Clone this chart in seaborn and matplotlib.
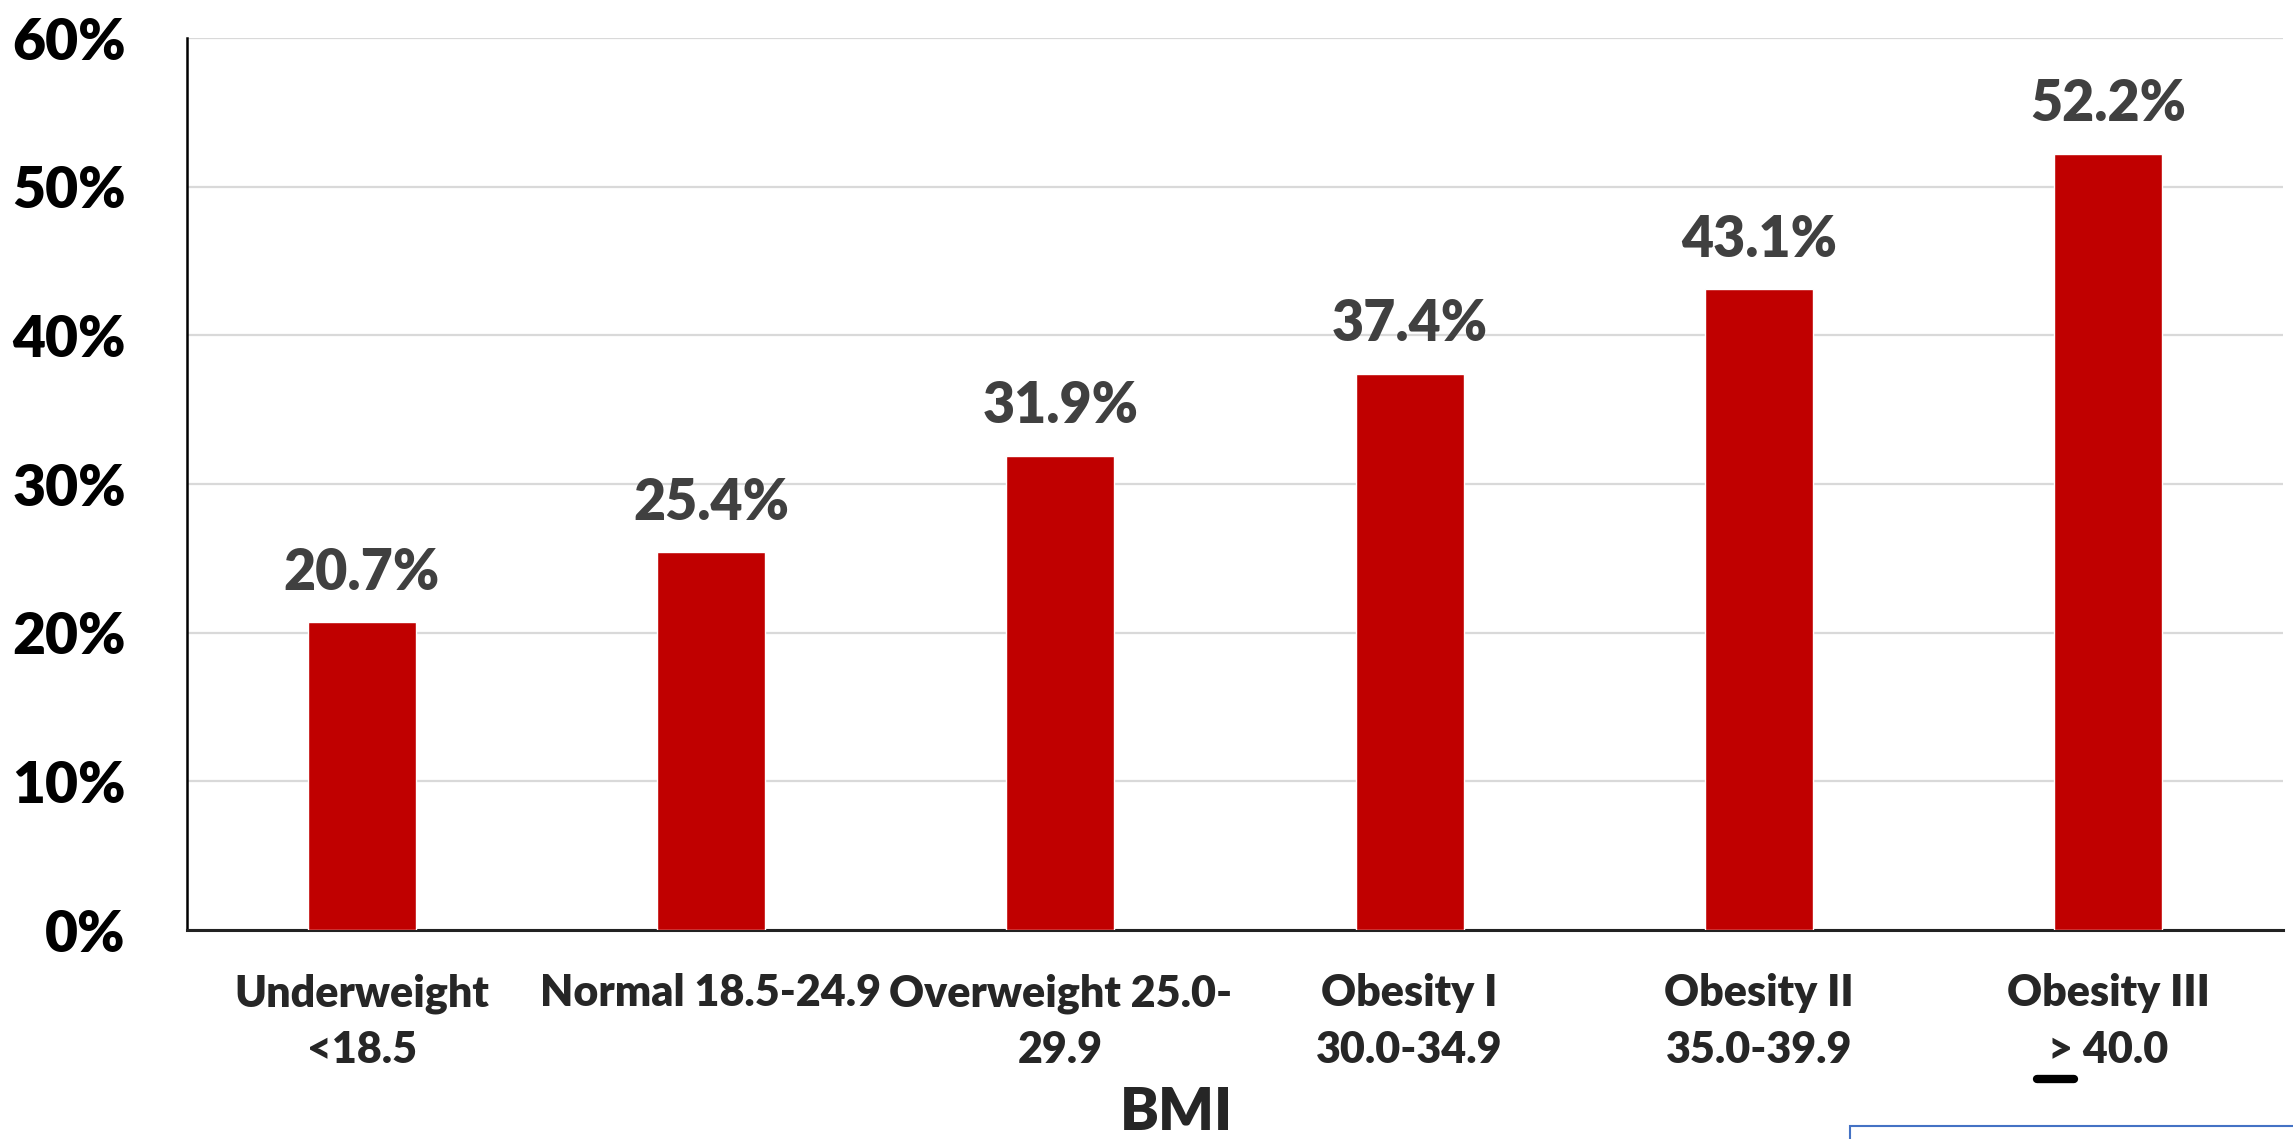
import matplotlib
matplotlib.use("Agg")
from matplotlib import pyplot as plt
from matplotlib.lines import Line2D
from matplotlib.patches import Rectangle
import seaborn as sns
import pandas as pd

categories = ["Underweight\n<18.5", "Normal 18.5-24.9", "Overweight 25.0-\n29.9",
              "Obesity I\n30.0-34.9", "Obesity II\n35.0-39.9", "Obesity III\n> 40.0"]
rates = [20.7, 25.4, 31.9, 37.4, 43.1, 52.2]
y_ticks = [0, 10, 20, 30, 40, 50, 60]
y_tick_labels = ["0%", "10%", "20%", "30%", "40%", "50%", "60%"]

sns.set_style("white")
plt.rcParams['font.family'] = ['Lato', 'DejaVu Sans']
plt.rcParams['font.weight'] = 'heavy'

df = pd.DataFrame({"category": categories, "rate": rates})

fig = plt.figure(figsize=(22.93, 11.39), dpi=100)
ax = fig.add_axes([187 / 2293, 1 - 930 / 1139, (2283 - 187) / 2293, (930 - 38) / 1139])

sns.barplot(data=df, x="category", y="rate", color="#C00000", saturation=1,
            width=0.31, ax=ax, zorder=3)

ax.set_ylim(0, 60)
ax.set_xlim(-0.5, len(categories) - 0.5)
ax.set_yticks(y_ticks)
ax.set_yticklabels(y_tick_labels, fontsize=41, fontweight='heavy', color='black')
ax.tick_params(axis='y', length=0, pad=44)
ax.tick_params(axis='x', length=0, pad=31)
for lbl in ax.get_xticklabels():
    lbl.set_fontsize(31)
    lbl.set_fontweight('heavy')
    lbl.set_linespacing(1.5)
    lbl.set_verticalalignment('top')

ax.yaxis.grid(True, color='#D9D9D9', linewidth=1.6, zorder=0)
ax.set_axisbelow(True)
for side in ['top', 'right']:
    ax.spines[side].set_visible(False)
ax.spines['left'].set_color('black')
ax.spines['left'].set_linewidth(1.8)
ax.spines['bottom'].set_color('#222222')
ax.spines['bottom'].set_linewidth(2.2)

for bar, val in zip(ax.patches, rates):
    ax.annotate(f"{val:.1f}%", (bar.get_x() + bar.get_width() / 2, bar.get_height()),
                xytext=(0, 17), textcoords='offset points', ha='center', va='bottom',
                fontsize=40, fontweight='heavy', color='#404040')

ax.set_ylabel("")
ax.set_xlabel("BMI", fontsize=42, fontweight='heavy')
ax.xaxis.set_label_coords(0.472, -0.175)
ax.xaxis.label.set_verticalalignment('top')

# underline under the ">" sign of the last label
fig.add_artist(Line2D([2037 / 2293, 2074 / 2293], [1 - 1079 / 1139, 1 - 1079 / 1139],
                      color='black', linewidth=6))
# partial text box outline at the bottom right
fig.add_artist(Rectangle((1850 / 2293, -0.05), 0.2, 0.05 + (1139 - 1126) / 1139,
                         fill=False, edgecolor='#4472C4', linewidth=1.5))

fig.savefig("out.png", dpi=100)
